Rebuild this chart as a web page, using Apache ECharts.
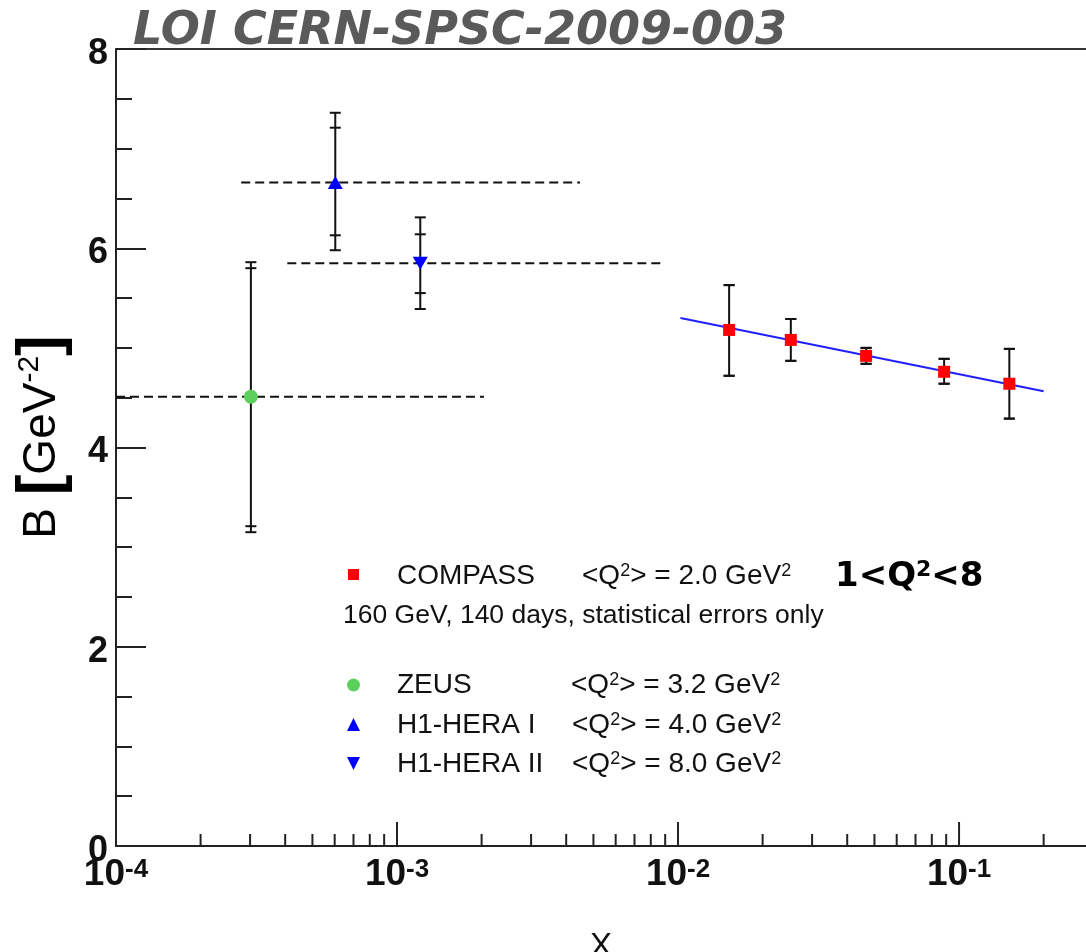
<!DOCTYPE html>
<html><head><meta charset="utf-8">
<script src="https://cdn.jsdelivr.net/npm/echarts@6/dist/echarts.min.js"></script>
<style>html,body{margin:0;padding:0;background:#fff}#c{width:1086px;height:952px}</style>
</head><body><div id="c"></div>
<script>
// ---------- data ----------
const compassX = [0.0152, 0.0252, 0.0467, 0.0885, 0.151];
const compassB = [5.18, 5.08, 4.92, 4.76, 4.64];
const compassLow = [4.72, 4.87, 4.84, 4.64, 4.29];
const compassHigh = [5.63, 5.29, 5.00, 4.89, 4.99];

const fitX = [0.0102, 0.200];
const fitB = [5.30, 4.565];

const zeusX = [3.02e-4];
const zeusB = [4.51];
const zeusStatLow = [3.21], zeusStatHigh = [5.80];
const zeusTotLow = [3.15], zeusTotHigh = [5.86];
const zeusBin = [1.0e-4, 2.04e-3];

const h1aX = [6.03e-4];
const h1aB = [6.66];
const h1aStatLow = [6.13], h1aStatHigh = [7.21];
const h1aTotLow = [5.98], h1aTotHigh = [7.36];
const h1aBin = [2.79e-4, 4.48e-3];

const h1bX = [1.21e-3];
const h1bB = [5.85];
const h1bStatLow = [5.55], h1bStatHigh = [6.14];
const h1bTotLow = [5.39], h1bTotHigh = [6.31];
const h1bBin = [4.07e-4, 8.9e-3];

const yTicks = [0, 2, 4, 6, 8];
const xMajorTicks = [1e-4, 1e-3, 1e-2, 1e-1];
const xMinorTicks = [];
[1e-4, 1e-3, 1e-2, 1e-1].forEach(d => { for (let k = 2; k <= 9; k++) { if (k * d <= 0.28) xMinorTicks.push(+(k * d).toPrecision(3)); } });

// ---------- helpers ----------
const ink = '#111';
function errRows(xs, ys, tl, th, sl, sh) {
  return xs.map((x, i) => [x, ys[i], tl[i], th[i], sl ? sl[i] : tl[i], sh ? sh[i] : th[i]]);
}
function errRender(params, api) {
  const x = api.value(0);
  const lo = api.coord([x, api.value(2)]), hi = api.coord([x, api.value(3)]);
  const sl = api.coord([x, api.value(4)]), sh = api.coord([x, api.value(5)]);
  const hw = 5.5;
  const st = { stroke: ink, lineWidth: 2 };
  const segs = [
    [lo[0], lo[1], hi[0], hi[1]],
    [lo[0] - hw, lo[1], lo[0] + hw, lo[1]],
    [hi[0] - hw, hi[1], hi[0] + hw, hi[1]],
    [sl[0] - hw, sl[1], sl[0] + hw, sl[1]],
    [sh[0] - hw, sh[1], sh[0] + hw, sh[1]]
  ];
  return { type: 'group', children: segs.map(s => ({ type: 'line', shape: { x1: s[0], y1: s[1], x2: s[2], y2: s[3] }, style: st })) };
}
function tickRender(len) {
  return function (params, api) {
    const p = api.coord([api.value(0), 0]);
    return { type: 'line', shape: { x1: p[0], y1: p[1], x2: p[0], y2: p[1] - len }, style: { stroke: '#222', lineWidth: 2 } };
  };
}
function dashed(bin, y) {
  return {
    type: 'line', data: [[bin[0], y], [bin[1], y]], symbol: 'none', z: 1, silent: true,
    lineStyle: { color: ink, width: 2, type: [9, 5] }
  };
}

const chart = echarts.init(document.getElementById('c'), null, { renderer: 'canvas' });

const supRich = {
  n: { fontFamily: 'Liberation Sans', fontSize: 28, color: ink, lineHeight: 28 },
  s: { fontFamily: 'Liberation Sans', fontSize: 18, color: ink, lineHeight: 12, verticalAlign: 'top' }
};
function legText(x, y, str, size) {
  return {
    type: 'text', x: x, y: y,
    style: { text: str, rich: supRich, fontFamily: 'Liberation Sans', fontSize: size || 28, fill: ink, verticalAlign: 'middle', align: 'left' }
  };
}

const option = {
  animation: false,
  backgroundColor: '#fff',
  grid: { left: 116, right: 0, top: 49, bottom: 106, containLabel: false, outerBoundsMode: 'none' },
  xAxis: [{
    type: 'log', logBase: 10, min: 1e-4, max: 0.283,
    name: 'X', nameLocation: 'middle', nameGap: 84,
    nameTextStyle: { fontFamily: 'Liberation Sans', fontSize: 33, color: ink },
    axisLine: { lineStyle: { color: '#222', width: 2 } },
    axisTick: { show: false },
    splitLine: { show: false },
    axisLabel: {
      margin: 11, hideOverlap: false, showMaxLabel: false,
      formatter: v => {
        const e = Math.log10(v);
        if (Math.abs(e - Math.round(e)) > 0.01 || Math.round(e) > -1) return '';
        return '{b|10}{s|' + Math.round(e) + '}';
      },
      rich: {
        b: { fontFamily: 'Liberation Sans', fontWeight: 'bold', fontSize: 37, color: ink, lineHeight: 36, verticalAlign: 'bottom' },
        s: { fontFamily: 'Liberation Sans', fontWeight: 'bold', fontSize: 26, color: ink, lineHeight: 24, verticalAlign: 'top' }
      }
    }
  }, {
    type: 'log', logBase: 10, min: 1e-4, max: 0.283, position: 'top',
    axisLine: { lineStyle: { color: '#333', width: 2 } },
    axisTick: { show: false }, axisLabel: { show: false }, splitLine: { show: false }
  }],
  yAxis: {
    type: 'value', min: 0, max: 8, interval: 2,
    axisLine: { show: true, lineStyle: { color: '#222', width: 2 } },
    axisTick: { show: true, inside: true, length: 30, lineStyle: { color: '#222', width: 2 } },
    minorTick: { show: true, splitNumber: 4, length: 16, lineStyle: { color: '#222', width: 2 } },
    splitLine: { show: false },
    axisLabel: {
      margin: 8,
      formatter: v => '{a|' + v + '}',
      rich: {
        a: { fontFamily: 'Liberation Sans', fontWeight: 'bold', fontSize: 36, color: ink, lineHeight: 36, padding: [10, 0, 0, 0] }
      }
    }
  },
  series: [
    { type: 'custom', name: 'xMajor', data: xMajorTicks.map(v => [v, 0]), renderItem: tickRender(24), encode: { x: 0, y: 1 }, silent: true, z: 4, clip: false },
    { type: 'custom', name: 'xMinor', data: xMinorTicks.map(v => [v, 0]), renderItem: tickRender(12), encode: { x: 0, y: 1 }, silent: true, z: 4, clip: false },
    dashed(zeusBin, zeusB[0]),
    dashed(h1aBin, h1aB[0]),
    dashed(h1bBin, h1bB[0]),
    { type: 'custom', name: 'errZ', data: errRows(zeusX, zeusB, zeusTotLow, zeusTotHigh, zeusStatLow, zeusStatHigh), renderItem: errRender, encode: { x: 0, y: [1, 2, 3, 4, 5] }, z: 2, silent: true },
    { type: 'custom', name: 'errA', data: errRows(h1aX, h1aB, h1aTotLow, h1aTotHigh, h1aStatLow, h1aStatHigh), renderItem: errRender, encode: { x: 0, y: [1, 2, 3, 4, 5] }, z: 2, silent: true },
    { type: 'custom', name: 'errB', data: errRows(h1bX, h1bB, h1bTotLow, h1bTotHigh, h1bStatLow, h1bStatHigh), renderItem: errRender, encode: { x: 0, y: [1, 2, 3, 4, 5] }, z: 2, silent: true },
    { type: 'custom', name: 'errC', data: errRows(compassX, compassB, compassLow, compassHigh), renderItem: errRender, encode: { x: 0, y: [1, 2, 3, 4, 5] }, z: 2, silent: true },
    { type: 'line', name: 'fit', data: fitX.map((x, i) => [x, fitB[i]]), symbol: 'none', z: 3, lineStyle: { color: '#2020ff', width: 2 } },
    { type: 'scatter', name: 'ZEUS', data: zeusX.map((x, i) => [x, zeusB[i]]), symbol: 'circle', symbolSize: 14, z: 5, itemStyle: { color: '#5cd05c', opacity: 1 } },
    { type: 'scatter', name: 'H1-HERA I', data: h1aX.map((x, i) => [x, h1aB[i]]), symbol: 'triangle', symbolSize: [15, 13], z: 5, itemStyle: { color: '#0000ff', opacity: 1 } },
    { type: 'scatter', name: 'H1-HERA II', data: h1bX.map((x, i) => [x, h1bB[i]]), symbol: 'triangle', symbolRotate: 180, symbolSize: [15, 13], z: 5, itemStyle: { color: '#0000ff', opacity: 1 } },
    { type: 'scatter', name: 'COMPASS', data: compassX.map((x, i) => [x, compassB[i]]), symbol: 'rect', symbolSize: 12, z: 5, itemStyle: { color: '#ff0000', opacity: 1 } }
  ],
  graphic: [
    { type: 'text', x: 133, y: 32, style: { text: 'LOI CERN-SPSC-2009-003', fontFamily: 'DejaVu Sans', fontWeight: 'bold', fontStyle: 'italic', fontSize: 46, fill: '#5a5a5a', verticalAlign: 'middle', align: 'left' } },
    {
      type: 'text', x: 42, y: 437, rotation: Math.PI / 2,
      style: {
        text: '{n|B }{br|[}{n|GeV}{s|-2}{br|]}', align: 'center', verticalAlign: 'middle',
        rich: {
          n: { fontFamily: 'Liberation Sans', fontSize: 46, color: ink, lineHeight: 54 },
          s: { fontFamily: 'Liberation Sans', fontSize: 30, color: ink, lineHeight: 20, verticalAlign: 'top' },
          br: { fontFamily: 'Liberation Sans', fontWeight: 'bold', fontSize: 62, color: ink, lineHeight: 54 }
        }
      }
    },
    {
      type: 'text', x: 835, y: 577,
      style: {
        text: '{n|1<Q}{s|2}{n|<8}', align: 'left', verticalAlign: 'middle',
        rich: {
          n: { fontFamily: 'DejaVu Sans', fontWeight: 'bold', fontSize: 34, color: '#000', lineHeight: 36 },
          s: { fontFamily: 'DejaVu Sans', fontWeight: 'bold', fontSize: 22, color: '#000', lineHeight: 16, verticalAlign: 'top' }
        }
      }
    },
    // legend markers
    { type: 'rect', shape: { x: 348, y: 569, width: 11, height: 11 }, style: { fill: '#ff0000' } },
    { type: 'circle', shape: { cx: 353.5, cy: 685, r: 6.5 }, style: { fill: '#5cd05c' } },
    { type: 'polygon', shape: { points: [[353.5, 718], [347, 731], [360, 731]] }, style: { fill: '#0000ff' } },
    { type: 'polygon', shape: { points: [[347, 757], [360, 757], [353.5, 770]] }, style: { fill: '#0000ff' } },
    // legend texts
    legText(397, 576, '{n|COMPASS}'),
    legText(582, 576, '{n|<Q}{s|2}{n|> = 2.0 GeV}{s|2}'),
    {
      type: 'text', x: 343, y: 616,
      style: { text: '160 GeV, 140 days, statistical errors only', fontFamily: 'Liberation Sans', fontSize: 26.5, fill: ink, verticalAlign: 'middle', align: 'left' }
    },
    legText(397, 685, '{n|ZEUS}'),
    legText(571, 685, '{n|<Q}{s|2}{n|> = 3.2 GeV}{s|2}'),
    legText(397, 725, '{n|H1-HERA I}'),
    legText(572, 725, '{n|<Q}{s|2}{n|> = 4.0 GeV}{s|2}'),
    legText(397, 764, '{n|H1-HERA II}'),
    legText(572, 764, '{n|<Q}{s|2}{n|> = 8.0 GeV}{s|2}')
  ]
};
chart.setOption(option);
</script>
</body></html>
